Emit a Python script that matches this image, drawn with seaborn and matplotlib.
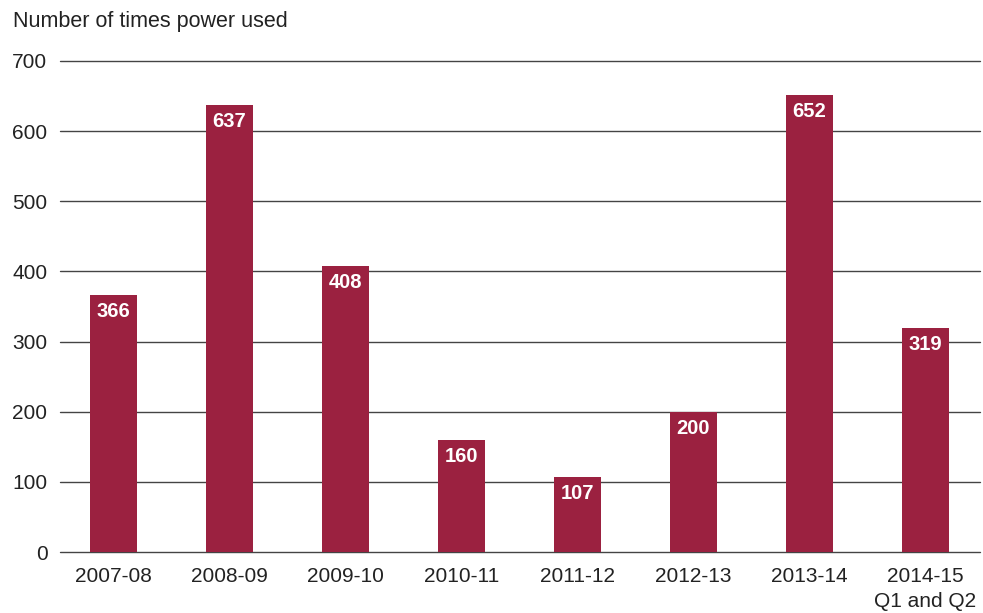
import matplotlib
matplotlib.use("Agg")
import matplotlib.pyplot as plt
import seaborn as sns
import pandas as pd

# data
years = ["2007-08", "2008-09", "2009-10", "2010-11", "2011-12", "2012-13", "2013-14", "2014-15\nQ1 and Q2"]
times_used = [366, 637, 408, 160, 107, 200, 652, 319]

df = pd.DataFrame({"year": years, "count": times_used})

sns.set_style("white")
plt.rcParams['font.family'] = ['Liberation Sans', 'DejaVu Sans']

fig = plt.figure(figsize=(9.83, 6.13), dpi=100)
ax = fig.add_axes([0.061, 0.0995, 0.936, 0.801])

bar_color = "#9b2140"
sns.barplot(data=df, x="year", y="count", color=bar_color, width=0.4,
            saturation=1, linewidth=0, ax=ax, zorder=3)

ax.set_ylim(0, 700)
ax.set_xlim(-0.46, 7.47)
ax.set_yticks(range(0, 701, 100))
ax.yaxis.grid(True, color="#444444", linewidth=1, zorder=0)
for gl in ax.get_ygridlines():
    gl.set_clip_on(False)
ax.set_axisbelow(True)
for s in ax.spines.values():
    s.set_visible(False)
ax.tick_params(axis="both", length=0, labelsize=15, colors="#222222")
ax.tick_params(axis="y", pad=9)
ax.tick_params(axis="x", pad=11)
for lbl in ax.get_xticklabels():
    lbl.set_linespacing(1.4)
ax.set_xlabel("")
ax.set_ylabel("")

# value labels inside the top of each bar
for i, v in enumerate(times_used):
    ax.annotate(str(v), (i, v), xytext=(0, -12), textcoords="offset points",
                ha="center", va="center", color="white", fontsize=14.5,
                fontweight="bold", zorder=4)

fig.text(13 / 983, 1 - 22 / 613, "Number of times power used", fontsize=15.5,
         ha="left", va="center", color="#222222")

fig.savefig("out.png", dpi=100)
